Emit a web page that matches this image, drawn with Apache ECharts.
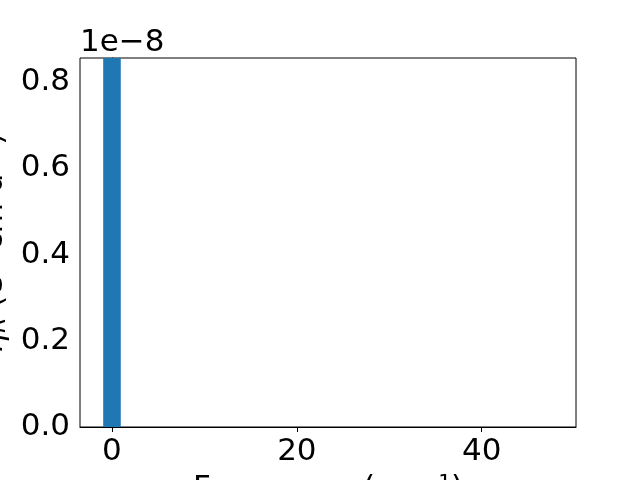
<!DOCTYPE html>
<html>
<head>
<meta charset="utf-8">
<script src="https://cdn.jsdelivr.net/npm/echarts@6/dist/echarts.min.js"></script>
<style>html,body{margin:0;padding:0;background:#fff}#c{width:640px;height:480px}</style>
</head>
<body>
<div id="c"></div>
<script>
// Data
const frequencies = [0];            // cm^-1
const intensities = [8.6e-9];       // e- cm d-1 (clipped by axis top)
const xTicks = [0, 20, 40];
const yTicks = [0, 2e-9, 4e-9, 6e-9, 8e-9];
const xRange = [-3.46, 50.2];
const yRange = [0, 8.557e-9];
const BAR_W = 1.9;

const FONT = 'DejaVu Sans';
const FS = 31;
const chart = echarts.init(document.getElementById('c'), null, {renderer: 'canvas'});
const data = frequencies.map((f, i) => [f, intensities[i]]);

chart.setOption({
  animation: false,
  backgroundColor: '#fff',
  grid: {left: 80, right: 64, top: 58, bottom: 53, outerBoundsMode: 'none', containLabel: false,
         show: true, borderColor: '#000', borderWidth: 1, backgroundColor: 'transparent'},
  xAxis: {
    type: 'value', min: xRange[0], max: xRange[1],
    splitLine: {show: false},
    axisLine: {show: true, onZero: false, lineStyle: {color: '#000', width: 1}},
    axisTick: {show: true, length: 5, customValues: xTicks, lineStyle: {color: '#000', width: 1}},
    axisLabel: {customValues: xTicks, color: '#000', fontFamily: FONT, fontSize: FS, margin: 9, formatter: v => String(Math.round(v))},
    name: 'Frequency (cm⁻¹)', nameLocation: 'middle', nameGap: 46,
    nameTextStyle: {color: '#000', fontFamily: FONT, fontSize: FS}
  },
  yAxis: {
    type: 'value', min: yRange[0], max: yRange[1],
    splitLine: {show: false},
    axisLine: {show: true, lineStyle: {color: '#000', width: 1}},
    axisTick: {show: true, length: 5, customValues: yTicks, lineStyle: {color: '#000', width: 1}},
    axisLabel: {customValues: yTicks, color: '#000', fontFamily: FONT, fontSize: FS, margin: 10, formatter: v => (v * 1e8).toFixed(1)},
    name: '{i|η}{s|R} (e⁻ cm d⁻¹)', nameLocation: 'middle', nameGap: 63, nameRotate: 90,
    nameTextStyle: {color: '#000', fontFamily: FONT, fontSize: FS,
      rich: {i: {fontFamily: FONT, fontSize: FS, fontStyle: 'italic'}, s: {fontFamily: FONT, fontSize: 22, fontStyle: 'italic', verticalAlign: 'bottom', padding: [9, 0, 0, 0]}}}
  },
  graphic: [{
    type: 'text', left: 80, top: 27, silent: true,
    style: {text: '1e−8', font: FS + 'px "DejaVu Sans"', fill: '#000'}
  }],
  series: [{
    type: 'custom',
    data: data,
    encode: {x: 0, y: 1},
    clip: true,
    renderItem: function (params, api) {
      const x = api.value(0), y = api.value(1);
      const p0 = api.coord([x - BAR_W / 2, 0]);
      const p1 = api.coord([x + BAR_W / 2, y]);
      const rect = echarts.graphic.clipRectByRect({
        x: p0[0], y: p1[1], width: p1[0] - p0[0], height: p0[1] - p1[1]
      }, {x: params.coordSys.x, y: params.coordSys.y, width: params.coordSys.width, height: params.coordSys.height});
      if (!rect) return;
      return {type: 'rect', shape: rect, style: {fill: '#1f77b4'}};
    }
  }]
});
</script>
</body>
</html>
